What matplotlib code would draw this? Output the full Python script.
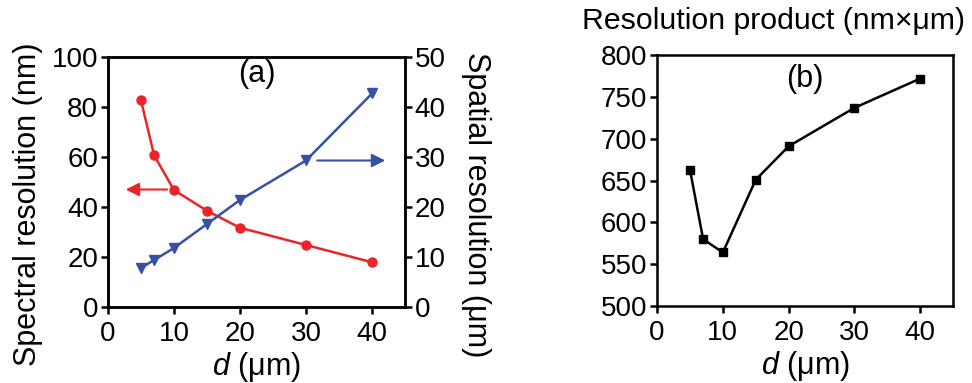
import matplotlib
matplotlib.use("Agg")
import matplotlib.pyplot as plt

plt.rcParams['font.family'] = ['Liberation Sans', 'DejaVu Sans']
plt.rcParams['mathtext.fontset'] = 'custom'
plt.rcParams['mathtext.it'] = 'Liberation Sans:italic'
plt.rcParams['mathtext.rm'] = 'Liberation Sans'

# Aperture size d (um)
d = [5, 7, 10, 15, 20, 30, 40]
spectral_nm = [82.8, 60.7, 46.8, 38.5, 31.7, 24.8, 17.9]
spatial_um = [7.8, 9.4, 11.8, 16.6, 21.4, 29.3, 42.7]
product = [663, 580, 564, 651, 691, 737, 772]

red = '#ec2428'
blue = '#3550a6'
fs = 20      # tick labels
lfs = 22     # axis labels

fig = plt.figure(figsize=(9.72, 3.83), dpi=100)

def style(ax):
    for s in ax.spines.values():
        s.set_linewidth(1.8)
    ax.tick_params(direction='out', length=5, width=1.8, labelsize=fs, pad=2)
    ax.tick_params(axis='x', pad=5)

def place_xlabel(ax):
    ax.xaxis.label.set_va('center')
    ax.xaxis.set_label_coords(0.5, -0.24)

# Panel (a): spectral and spatial resolution
ax = fig.add_axes([0.111, 0.1984, 0.3057, 0.6528])
ax.plot(d, spectral_nm, color=red, lw=1.8, marker='o', ms=6.5)
ax.set_xlim(0, 45)
ax.set_ylim(0, 100)
ax.set_xticks([0, 10, 20, 30, 40])
ax.set_yticks([0, 20, 40, 60, 80, 100])
ax.set_ylabel('Spectral resolution (nm)', fontsize=lfs)
ax.yaxis.label.set_va('center')
ax.yaxis.set_label_coords(-0.27, 0.41)
ax.set_xlabel(r'$d$ (μm)', fontsize=lfs)
place_xlabel(ax)
style(ax)
ax.text(22.5, 93, '(a)', ha='center', va='center', fontsize=lfs)
ax.annotate('', xy=(2.7, 47), xytext=(9.0, 47),
            arrowprops=dict(arrowstyle='-|>', color=red, lw=1.5,
                            mutation_scale=20, shrinkA=0, shrinkB=0))

ax2 = ax.twinx()
ax2.plot(d, spatial_um, color=blue, lw=1.8, marker='v', ms=7.5)
ax2.set_ylim(0, 50)
ax2.set_yticks([0, 10, 20, 30, 40, 50])
ax2.set_ylabel('Spatial resolution (μm)', fontsize=lfs, rotation=270)
ax2.yaxis.label.set_va('center')
ax2.yaxis.set_label_coords(1.24, 0.41)
style(ax2)
ax2.annotate('', xy=(42.0, 29.3), xytext=(31.7, 29.3),
             arrowprops=dict(arrowstyle='-|>', color=blue, lw=1.5,
                             mutation_scale=20, shrinkA=0, shrinkB=0))

# Panel (b): resolution product
bx = fig.add_axes([0.676, 0.201, 0.3045, 0.655])
bx.plot(d, product, color='black', lw=1.8, marker='s', ms=6)
bx.set_xlim(0, 45)
bx.set_ylim(500, 800)
bx.set_xticks([0, 10, 20, 30, 40])
bx.set_yticks([500, 550, 600, 650, 700, 750, 800])
bx.set_xlabel(r'$d$ (μm)', fontsize=lfs)
place_xlabel(bx)
style(bx)
bx.text(22.5, 772, '(b)', ha='center', va='center', fontsize=lfs)
fig.text(0.599, 0.945, 'Resolution product (nm×μm)', fontsize=21.8,
         ha='left', va='center')

fig.savefig('out.png', dpi=100)
